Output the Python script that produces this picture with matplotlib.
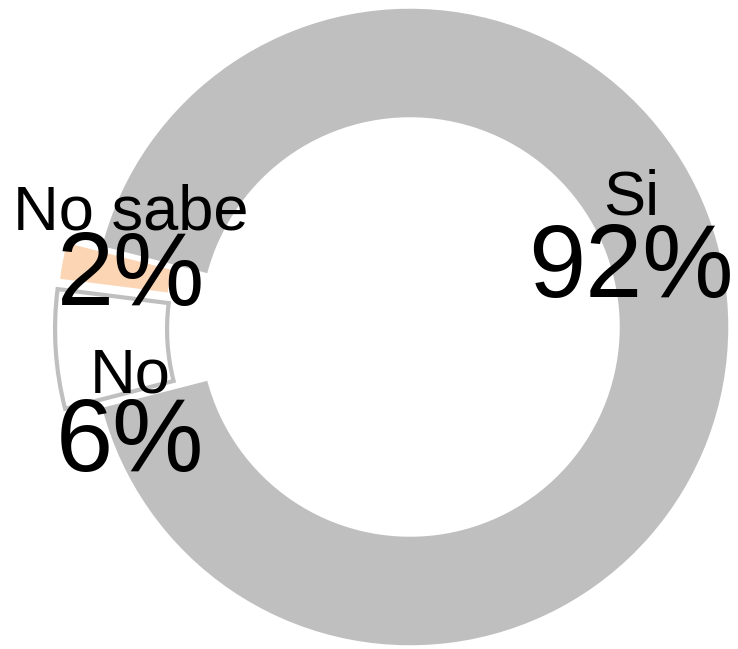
import matplotlib
matplotlib.use("Agg")
import matplotlib.pyplot as plt

plt.rcParams['font.family'] = ['Liberation Sans', 'DejaVu Sans']

# --- data ---
labels = ['Si', 'No sabe', 'No']
values = [92, 2, 6]
colors = ['#BFBFBF', '#FCD5B5', '#FFFFFF']
explode = [0, 35, 35]  # in pixel-like data units

W, H = 738, 649
fig = plt.figure(figsize=(W / 100, H / 100), dpi=100)
ax = fig.add_axes([0, 0, 1, 1])

wedges, _ = ax.pie(
    values,
    colors=colors,
    explode=explode,
    startangle=-165.6,
    counterclock=True,
    radius=320,
    center=(410, H - 327),
    wedgeprops={'width': 112, 'edgecolor': 'white', 'linewidth': 2.5},
)
# the "No" slice is drawn as an outline only
wedges[2].set_edgecolor('#BFBFBF')
wedges[2].set_linewidth(3)
wedges[2].set_zorder(0.5)

ax.set_xlim(0, W)
ax.set_ylim(0, H)
ax.set_aspect('equal')
ax.axis('off')

# label positions (pixel coords of the reference, y from top)
label_pos = [(631, 198, 271), (131, 213, 278), (130, 376, 445)]
for name, val, (x, y1, y2) in zip(labels, values, label_pos):
    ax.text(x, H - y1, name, fontsize=45.5, ha='center', va='center', color='black')
    ax.text(x, H - y2, f"{val}%", fontsize=74, ha='center', va='center', color='black')

fig.savefig('out.png', dpi=100)
